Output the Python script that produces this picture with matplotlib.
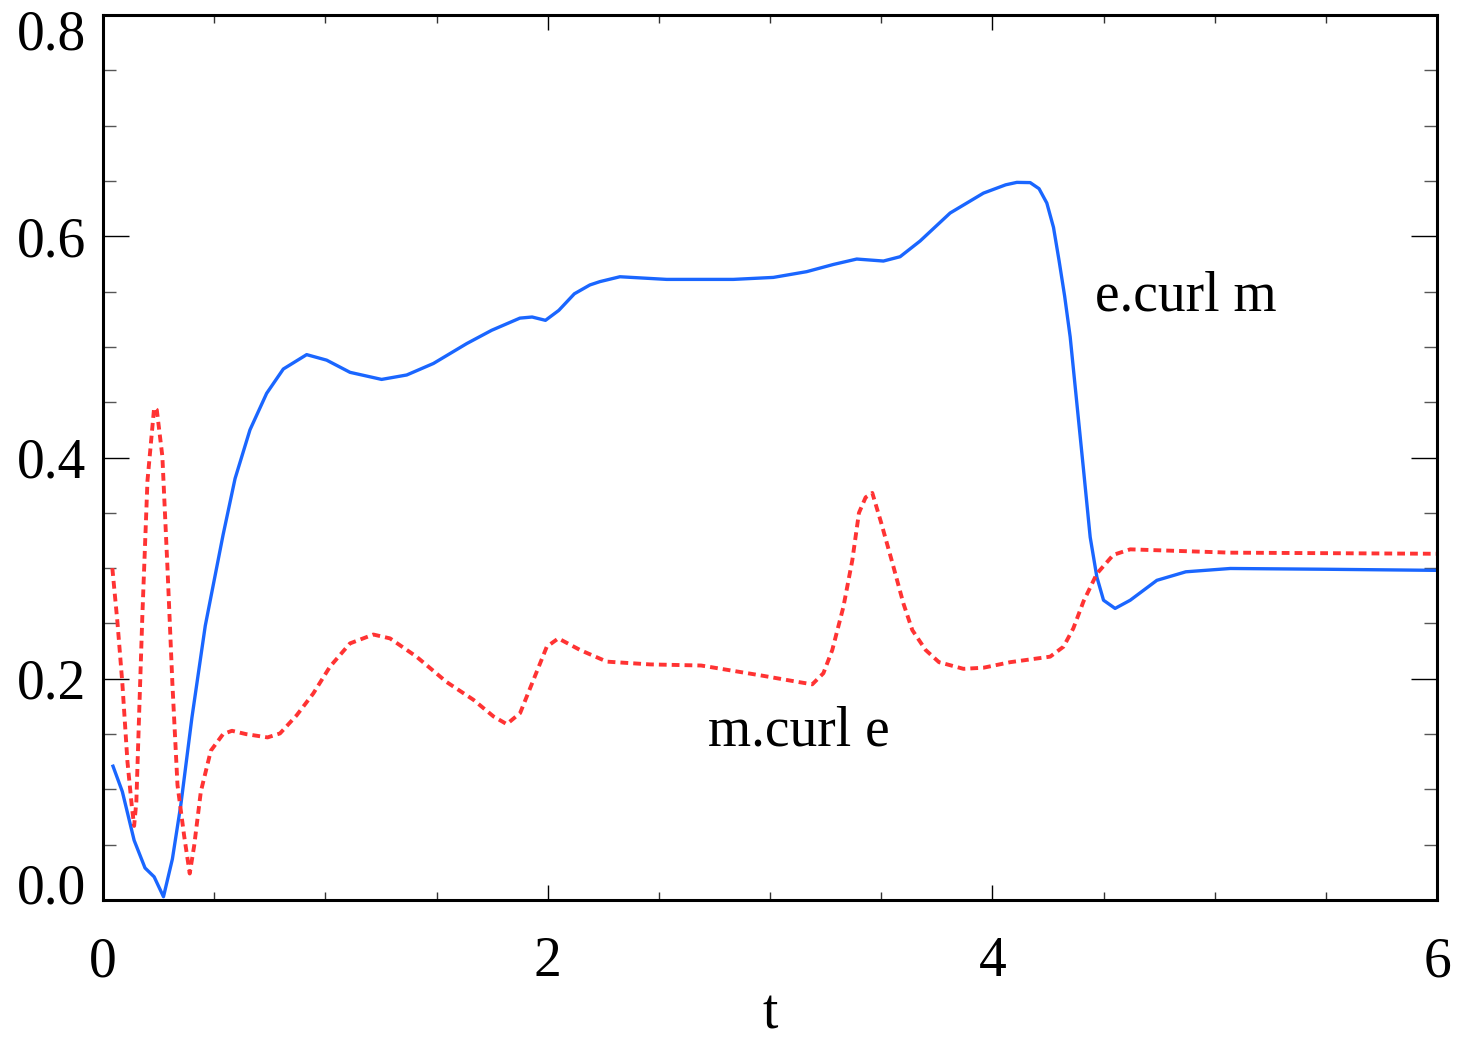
import matplotlib
matplotlib.use("Agg")
import matplotlib.pyplot as plt
import matplotlib.transforms as mtransforms
from matplotlib.ticker import MultipleLocator

plt.rcParams['font.family'] = ['Liberation Serif', 'DejaVu Serif']

# e.curl m (blue, solid)
t_blue = [0.045, 0.087, 0.140, 0.189, 0.230, 0.272, 0.312, 0.35, 0.40, 0.46, 0.54, 0.594, 0.661, 0.736,
          0.811, 0.916, 1.006, 1.111, 1.253, 1.366, 1.486, 1.636, 1.748, 1.875, 1.93, 1.99, 2.05, 2.12,
          2.19, 2.235, 2.325, 2.535, 2.835, 3.015, 3.165, 3.285, 3.39, 3.51, 3.585, 3.675, 3.81, 3.96,
          4.06, 4.11, 4.17, 4.21, 4.245, 4.275, 4.30, 4.325, 4.35, 4.38, 4.41, 4.44, 4.47, 4.50, 4.552,
          4.62, 4.74, 4.87, 5.07, 5.5, 6.0]
e_curl_m = [0.121, 0.098, 0.054, 0.029, 0.021, 0.003, 0.037, 0.086, 0.165, 0.248, 0.330, 0.381, 0.425, 0.458,
            0.480, 0.493, 0.488, 0.477, 0.4706, 0.4746, 0.485, 0.503, 0.515, 0.526, 0.527, 0.524, 0.533, 0.548,
            0.556, 0.559, 0.5634, 0.561, 0.561, 0.5628, 0.568, 0.5745, 0.5794, 0.5776, 0.5815, 0.5957, 0.621, 0.639,
            0.6465, 0.6487, 0.6485, 0.643, 0.630, 0.608, 0.578, 0.546, 0.509, 0.449, 0.389, 0.328, 0.292, 0.271,
            0.2636, 0.271, 0.289, 0.2967, 0.2997, 0.299, 0.298]

# m.curl e (red, dotted)
t_red = [0.042, 0.065, 0.087, 0.110, 0.129, 0.140, 0.150, 0.162, 0.177, 0.200, 0.230, 0.242, 0.267, 0.29,
         0.312, 0.335, 0.365, 0.39, 0.41, 0.44, 0.485, 0.54, 0.58, 0.643, 0.74, 0.796, 0.871, 0.946, 1.021,
         1.111, 1.216, 1.291, 1.41, 1.546, 1.666, 1.756, 1.816, 1.876, 1.936, 1.996, 2.048, 2.146, 2.266,
         2.46, 2.69, 2.96, 3.13, 3.19, 3.24, 3.28, 3.33, 3.37, 3.40, 3.43, 3.46, 3.50, 3.55, 3.60, 3.64,
         3.70, 3.76, 3.87, 3.96, 4.08, 4.26, 4.32, 4.364, 4.41, 4.47, 4.544, 4.62, 4.77, 5.07, 6.0]
m_curl_e = [0.300, 0.251, 0.196, 0.125, 0.086, 0.067, 0.089, 0.165, 0.257, 0.379, 0.445, 0.443, 0.401, 0.300,
            0.196, 0.104, 0.058, 0.024, 0.049, 0.098, 0.135, 0.150, 0.153, 0.150, 0.147, 0.1506, 0.167, 0.1868, 0.211,
            0.232, 0.240, 0.2365, 0.220, 0.197, 0.181, 0.166, 0.159, 0.169, 0.199, 0.229, 0.2365, 0.226, 0.2155,
            0.213, 0.212, 0.203, 0.197, 0.195, 0.205, 0.226, 0.265, 0.307, 0.350, 0.364, 0.368, 0.341, 0.305, 0.268,
            0.244, 0.226, 0.215, 0.209, 0.210, 0.215, 0.220, 0.229, 0.2455, 0.270, 0.295, 0.312, 0.317, 0.316, 0.314,
            0.313]

x_major = [0, 2, 4, 6]
y_major = [0.0, 0.2, 0.4, 0.6, 0.8]

fig = plt.figure(figsize=(14.61, 10.41), dpi=100)
ax = fig.add_axes([0.0705, 0.1354, 0.9131, 0.8502])

ax.plot(t_blue, e_curl_m, color='#1a66ff', lw=2.4, solid_joinstyle='round')
ax.plot(t_red, m_curl_e, color='#ff3333', lw=2.8, linestyle=(0, (2.0, 1.3)))

ax.set_xlim(0, 6)
ax.set_ylim(0, 0.8)
ax.set_xticks(x_major)
ax.set_yticks(y_major)
ax.xaxis.set_minor_locator(MultipleLocator(0.5))
ax.yaxis.set_minor_locator(MultipleLocator(0.05))
ax.set_xticklabels([f"{v:.0f}" for v in x_major])
ax.set_yticklabels([f"{v:.1f}" for v in y_major])

ax.tick_params(which='both', direction='in', top=True, right=True)
ax.tick_params(axis='y', which='major', length=19, width=1.0, color='black', labelsize=40, pad=12)
ax.tick_params(axis='y', which='minor', length=9.5, width=1.0, color='#555555')
ax.tick_params(axis='x', which='major', length=11, width=1.0, color='black', labelsize=40, pad=26)
ax.tick_params(axis='x', which='minor', length=6, width=1.0, color='#333333')
for s in ax.spines.values():
    s.set_linewidth(2.2)

ax.set_xlabel('t', fontsize=40, labelpad=0)

ax.text(4.462, 0.533, 'e.curl m', fontsize=40, ha='left', va='baseline')
ax.text(2.72, 0.14, 'm.curl e', fontsize=40, ha='left', va='baseline')

# pull the end labels of the y axis inward, as in the reference
labels = ax.get_yticklabels()
shift_down = mtransforms.ScaledTranslation(0, -0.15, fig.dpi_scale_trans)
shift_up = mtransforms.ScaledTranslation(0, 0.17, fig.dpi_scale_trans)
labels[-1].set_transform(labels[-1].get_transform() + shift_down)
labels[0].set_transform(labels[0].get_transform() + shift_up)

fig.savefig('out.png', dpi=100)
